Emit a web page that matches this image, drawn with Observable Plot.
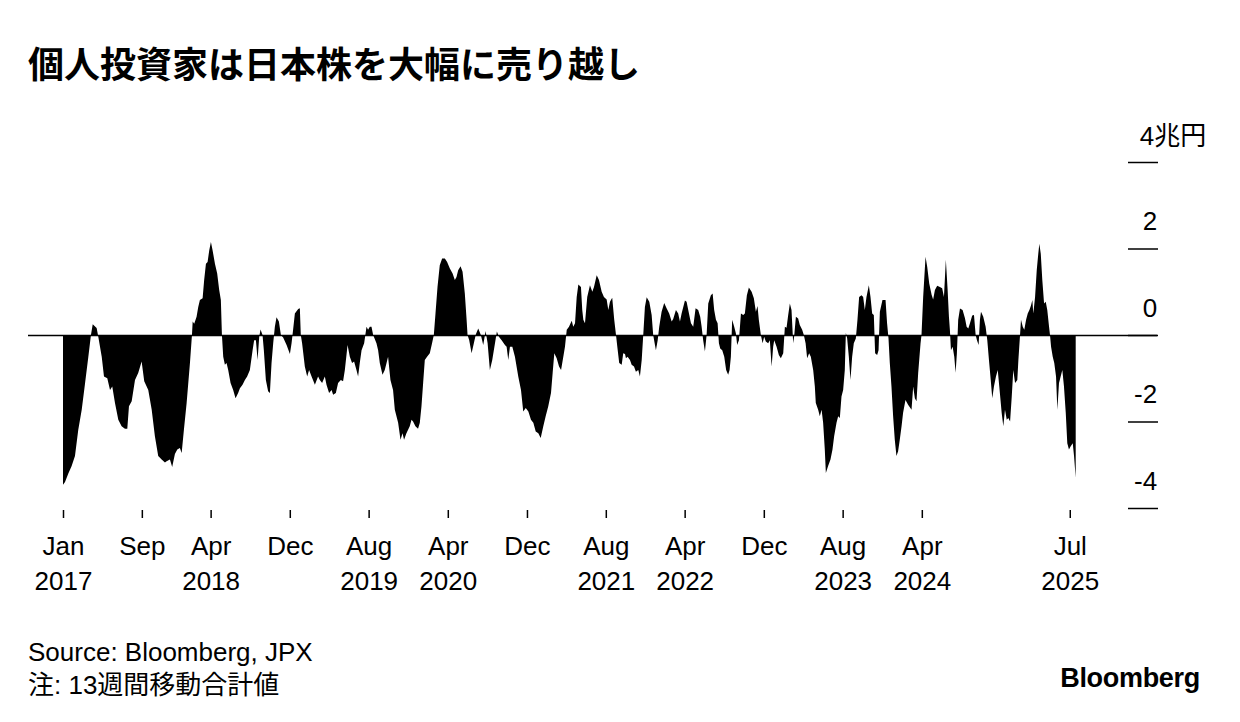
<!DOCTYPE html>
<html><head><meta charset="utf-8">
<script src="https://cdn.jsdelivr.net/npm/d3@7"></script>
<script src="https://cdn.jsdelivr.net/npm/@observablehq/plot@0.6"></script>
<style>
html,body{margin:0;padding:0;background:#fff;}
#wrap{position:relative;width:1240px;height:722px;overflow:hidden;font-family:"Liberation Sans",Arial,"Noto Sans CJK JP",sans-serif;color:#000;}
#title{position:absolute;left:28px;top:40px;font-family:"Noto Sans CJK JP",sans-serif;font-weight:700;font-size:36px;line-height:44px;margin:0;white-space:nowrap;}
#chart{position:absolute;left:0;top:100px;}
.foot{position:absolute;left:28px;font-size:26px;line-height:33px;white-space:nowrap;}
#logo{position:absolute;right:40px;top:663px;font-weight:700;font-size:27px;line-height:30px;letter-spacing:-0.3px;}
</style></head>
<body>
<div id="wrap">
  <h1 id="title">個人投資家は日本株を大幅に売り越し</h1>
  <div id="chart"></div>
  <div class="foot" style="top:636px">Source: Bloomberg, JPX</div>
  <div class="foot" style="top:669px">注: 13週間移動合計値</div>
  <div id="logo">Bloomberg</div>
</div>
<script>
// Decimal year of each reading (13-week moving sum of individual investors' net buying)
const weekT = [
2017.000,2017.017,2017.045,2017.073,2017.101,2017.129,2017.158,2017.186,2017.214,2017.236,2017.251,2017.284,2017.298,2017.327,2017.346,2017.374,2017.397,2017.416,2017.439,2017.467,2017.495,2017.523,2017.543,2017.557,2017.580,2017.608,2017.635,2017.664,2017.686,2017.720,2017.749,2017.776,2017.804,2017.833,2017.861,
2017.875,2017.903,2017.922,2017.945,2017.965,2017.987,2018.002,2018.021,2018.044,2018.072,2018.089,2018.095,2018.108,2018.128,2018.142,2018.156,2018.179,2018.192,2018.207,2018.221,2018.235,2018.249,2018.263,2018.283,2018.302,2018.319,2018.333,2018.342,2018.353,2018.367,2018.381,2018.395,2018.415,2018.437,2018.457,2018.479,2018.494,2018.516,2018.536,2018.555,2018.578,2018.601,2018.614,2018.629,2018.643,2018.657,2018.668,2018.685,2018.696,2018.713,2018.732,
2018.747,2018.761,2018.775,2018.789,2018.803,2018.823,2018.840,2018.859,2018.888,2018.916,2018.930,2018.943,2018.958,2018.986,2019.000,2019.008,2019.019,2019.042,2019.062,2019.078,2019.099,2019.127,2019.154,2019.169,2019.188,2019.211,2019.225,2019.247,2019.268,2019.281,2019.304,2019.323,2019.346,2019.365,2019.380,2019.403,2019.422,2019.441,2019.458,2019.478,2019.492,2019.506,2019.521,2019.543,2019.563,2019.576,2019.591,
2019.605,2019.619,2019.647,2019.661,2019.675,2019.698,2019.717,2019.732,2019.745,2019.765,2019.787,2019.802,2019.830,2019.850,2019.867,2019.880,2019.900,2019.914,2019.928,2019.943,2019.956,2019.976,2019.998,2020.013,2020.027,2020.041,2020.055,2020.074,2020.097,2020.116,2020.131,2020.145,2020.162,2020.181,2020.201,2020.224,2020.243,2020.266,2020.289,2020.308,2020.322,2020.336,2020.356,2020.373,2020.392,2020.407,2020.415,2020.429,2020.449,2020.468,2020.485,2020.505,
2020.527,2020.547,2020.567,2020.584,2020.603,2020.623,2020.646,2020.662,2020.679,2020.702,2020.730,2020.744,2020.758,2020.772,2020.792,2020.814,2020.842,2020.865,2020.884,2020.905,2020.927,2020.949,2020.969,2020.989,2021.011,2021.031,2021.053,2021.073,2021.095,2021.118,2021.132,2021.146,2021.166,2021.186,2021.203,2021.222,2021.236,2021.251,2021.270,2021.293,2021.306,2021.321,2021.335,2021.349,2021.371,2021.382,2021.391,
2021.405,2021.424,2021.447,2021.467,2021.481,2021.504,2021.523,2021.546,2021.565,2021.588,2021.602,2021.616,2021.635,2021.652,2021.667,2021.678,2021.694,2021.715,2021.728,2021.743,2021.751,2021.765,2021.785,2021.799,2021.819,2021.835,2021.855,2021.869,2021.884,2021.897,2021.911,2021.926,2021.948,2021.968,2021.981,2021.996,2022.004,2022.019,2022.032,2022.052,2022.074,2022.094,2022.116,2022.137,2022.150,2022.173,2022.192,2022.207,2022.221,2022.249,2022.263,
2022.277,2022.300,2022.319,2022.339,2022.361,2022.378,2022.390,2022.403,2022.418,2022.432,2022.446,2022.468,2022.483,2022.496,2022.511,2022.525,2022.536,2022.547,2022.564,2022.581,2022.597,2022.614,2022.626,2022.637,2022.648,2022.665,2022.679,2022.690,2022.705,2022.722,2022.741,2022.755,2022.772,2022.789,2022.812,2022.831,2022.848,2022.862,2022.873,2022.890,2022.905,2022.918,2022.932,2022.952,2022.966,2022.981,2022.994,2023.003,2023.023,2023.042,2023.059,2023.079,2023.093,2023.107,2023.121,2023.135,2023.149,2023.163,
2023.171,2023.186,2023.205,2023.219,2023.239,2023.253,2023.268,2023.281,2023.298,2023.312,2023.332,2023.346,2023.354,2023.374,2023.388,2023.403,2023.416,2023.430,2023.439,2023.458,2023.478,2023.495,2023.509,2023.529,2023.543,2023.557,2023.571,2023.585,2023.599,2023.608,2023.619,2023.633,2023.647,2023.661,2023.675,2023.692,2023.706,2023.720,2023.740,2023.754,2023.768,2023.782,2023.802,2023.816,2023.830,2023.844,2023.855,2023.872,2023.884,2023.895,2023.917,2023.943,2023.956,2023.968,2023.979,2023.993,2024.007,2024.021,2024.035,
2024.049,2024.063,2024.078,2024.091,2024.111,2024.133,2024.162,2024.176,2024.190,2024.204,2024.218,2024.238,2024.246,2024.260,2024.280,2024.294,2024.311,2024.331,2024.344,2024.359,2024.378,2024.401,2024.420,2024.435,2024.451,2024.466,2024.477,2024.485,2024.494,2024.508,2024.522,2024.533,2024.544,2024.555,2024.570,2024.592,2024.612,2024.626,2024.640,2024.654,2024.673,2024.688,2024.702,2024.713,2024.727,2024.738,2024.747,2024.766,2024.786,2024.800,2024.814,2024.829,2024.842,2024.856,2024.873,2024.888,2024.901,
2024.921,2024.935,2024.949,2024.964,2024.977,2024.992,2025.006,2025.019,2025.034,2025.053,2025.062,2025.076,2025.084,2025.099,2025.112,2025.127,2025.141,2025.155,2025.169,2025.180,2025.188,2025.203,2025.217,2025.230,2025.239,2025.251,2025.264,2025.279,2025.293,2025.306,2025.321,2025.329,2025.338,2025.352,2025.365,2025.380,2025.391,2025.405,2025.419,2025.433,2025.447,2025.462,2025.475,2025.489,2025.504,2025.521,2025.532,2025.546
];
// Net buying, trillion yen
const netBuy = [
-3.46,-3.40,-3.20,-3.03,-2.80,-2.19,-1.73,-1.12,-0.50,0.00,0.25,0.16,-0.04,-0.50,-0.96,-1.00,-1.27,-1.19,-1.57,-1.96,-2.11,-2.17,-2.17,-1.65,-1.53,-1.04,-0.88,-0.61,-1.07,-1.27,-1.73,-2.34,-2.80,-2.88,-2.95,
-2.92,-2.88,-3.05,-2.75,-2.65,-2.61,-2.73,-2.19,-1.57,-0.65,0.00,0.31,0.26,0.42,0.65,0.81,0.85,1.27,1.65,1.69,1.96,2.15,1.96,1.65,1.42,1.04,0.81,0.00,-0.50,-0.69,-0.65,-0.81,-1.11,-1.27,-1.46,-1.34,-1.23,-1.15,-1.04,-0.96,-0.81,-0.35,-0.12,-0.12,-0.58,-0.04,0.13,0.00,-0.35,-1.04,-1.30,
-1.34,-0.65,-0.19,0.19,0.41,0.31,0.00,-0.06,-0.23,-0.44,-0.19,0.12,0.50,0.60,0.62,0.00,-0.19,-0.73,-0.96,-0.81,-0.96,-1.15,-0.96,-1.04,-1.11,-0.96,-1.15,-1.34,-1.27,-1.38,-1.34,-1.11,-1.04,-1.07,-0.81,-0.23,-0.50,-0.65,-0.61,-0.81,-0.96,-0.65,-0.35,-0.19,0.19,0.12,0.19,
0.19,0.00,-0.19,-0.35,-0.65,-0.92,-0.81,-0.65,-0.50,-1.04,-1.27,-1.73,-2.03,-2.42,-2.27,-2.42,-2.27,-2.19,-2.11,-1.96,-2.00,-2.11,-2.17,-2.03,-1.65,-1.11,-0.58,-0.50,-0.42,-0.19,0.00,0.50,1.11,1.61,1.77,1.77,1.69,1.54,1.42,1.27,1.34,1.50,1.59,1.46,0.96,0.35,0.00,-0.12,-0.42,-0.19,0.02,0.15,
0.00,-0.23,0.09,-0.19,-0.81,-0.58,-0.19,0.08,-0.04,-0.12,-0.23,-0.27,-0.58,-0.27,-0.27,-0.50,-0.96,-1.27,-1.77,-1.69,-1.77,-1.96,-2.03,-2.23,-2.27,-2.38,-2.11,-1.88,-1.65,-1.34,-0.88,-0.42,-0.54,-0.73,-0.81,-0.50,-0.27,0.12,0.19,0.33,0.19,0.27,0.88,1.17,1.11,0.58,0.35,
0.27,0.88,1.15,1.00,1.11,1.38,1.27,1.00,0.88,0.82,0.58,0.77,0.86,0.35,0.00,-0.27,-0.65,-0.69,-0.42,-0.44,-0.54,-0.50,-0.58,-0.69,-0.73,-0.85,-0.81,-0.96,-0.58,0.00,0.65,0.87,0.77,0.46,0.00,-0.23,-0.35,-0.12,0.19,0.54,0.74,0.62,0.50,0.31,0.37,0.58,0.50,0.31,0.50,0.80,0.77,
0.58,0.27,0.19,0.62,0.58,0.42,0.19,-0.12,-0.38,0.00,0.73,0.92,0.96,0.58,0.35,0.27,-0.19,-0.31,-0.35,-0.50,-0.81,-0.92,-0.81,-0.50,0.35,0.19,0.04,-0.23,-0.12,0.50,0.46,0.50,0.92,1.10,1.00,0.85,0.54,0.67,0.35,0.00,-0.19,-0.04,-0.15,-0.19,-0.12,-0.73,-0.27,-0.12,-0.27,-0.46,-0.54,-0.42,0.19,0.17,0.46,0.73,0.58,-0.19,
-0.04,0.42,0.38,0.23,0.12,0.00,-0.19,-0.54,-0.42,-0.50,-0.81,-1.19,-1.57,-1.73,-1.88,-1.73,-2.03,-2.65,-3.19,-3.03,-2.88,-2.65,-2.34,-2.03,-1.88,-1.92,-1.42,-1.27,-0.81,0.05,-0.08,-0.50,-1.04,-0.50,-0.19,-0.08,0.35,0.88,0.92,0.88,0.58,0.88,1.15,0.88,0.50,0.46,-0.42,-0.46,-0.35,0.54,0.81,0.81,0.27,-0.08,-0.65,-1.19,-1.88,-2.42,-2.80,
-2.69,-2.42,-2.11,-1.80,-1.50,-1.61,-1.73,-1.19,-1.46,-1.53,-0.88,-0.19,0.00,0.88,1.81,1.58,1.19,0.93,0.82,1.04,1.14,1.11,1.08,0.88,1.74,1.04,0.42,0.12,-0.35,-0.27,-0.50,-0.87,-0.42,0.35,0.61,0.58,0.39,0.19,0.15,0.27,0.45,0.46,0.00,-0.12,-0.23,0.35,0.54,0.42,0.19,-0.12,-0.58,-1.04,-1.46,-1.19,-0.96,-0.81,-1.19,
-1.80,-2.11,-1.73,-1.96,-1.92,-2.00,-1.42,-0.81,-1.11,-1.04,-0.58,0.00,0.35,0.19,0.12,0.35,0.50,0.58,0.69,0.81,0.50,0.88,1.50,1.88,2.11,1.88,1.27,0.73,0.77,0.58,0.19,0.00,-0.27,-0.50,-0.65,-0.96,-1.73,-1.11,-0.96,-0.81,-1.19,-1.80,-2.50,-2.65,-2.57,-2.50,-2.80,-3.30
];
// Axis ticks
const tickISO = ["2017-01-01","2017-09-01","2018-04-01","2018-12-01","2019-08-01","2020-04-01","2020-12-01","2021-08-01","2022-04-01","2022-12-01","2023-08-01","2024-04-01","2025-07-01"];
const tickMonths = ["Jan","Sep","Apr","Dec","Aug","Apr","Dec","Aug","Apr","Dec","Aug","Apr","Jul"];
const tickYears = ["2017","","2018","","2019","2020","","2021","2022","","2023","2024","2025"];
const yTicks = [4, 2, 0, -2, -4];
const yUnit = "兆円";

const toDate = t => { const y = Math.floor(t); const a = Date.UTC(y,0,1), b = Date.UTC(y+1,0,1); return new Date(a + (t - y) * (b - a)); };
const n = Math.min(weekT.length, netBuy.length);
const data = d3.range(n).map(i => ({date: toDate(weekT[i]), value: netBuy[i]}));
const tickDates = tickISO.map(s => new Date(s + "T00:00:00Z"));
const labelOf = new Map(tickDates.map((d, i) => [+d, tickMonths[i] + (tickYears[i] ? "\n" + tickYears[i] : "")]));

const font = "'Liberation Sans', Arial, 'Noto Sans CJK JP', sans-serif";
const chart = Plot.plot({
  width: 1240, height: 520,
  marginLeft: 63, marginRight: 164.3, marginTop: 62, marginBottom: 112,
  style: {fontFamily: font, fontSize: "26px", color: "#000", background: "#fff", overflow: "visible"},
  x: {type: "utc", axis: null},
  y: {domain: [-4, 4], axis: null},
  marks: [
    Plot.areaY(data, {x: "date", y: "value", fill: "#000"}),
    Plot.ruleY([0], {stroke: "#000", strokeWidth: 1.5, insetLeft: -35, insetRight: -81.3}),
    Plot.axisY(yTicks, {anchor: "right", tickSize: 30, dx: 51.3, fill: "none", stroke: "#000", strokeWidth: 1.5, label: null}),
    Plot.axisY(yTicks.filter(d => d !== 4), {anchor: "right", tickSize: 0, tickPadding: 0, textAnchor: "end", dx: 81, dy: -27, fontSize: 26, tickFormat: d => String(d), label: null}),
    Plot.axisY([4], {anchor: "right", tickSize: 0, tickPadding: 0, textAnchor: "start", dx: 63.5, dy: -26, fontSize: 26, tickFormat: d => String(d) + yUnit, label: null}),
    Plot.axisX(tickDates, {anchor: "bottom", tickSize: 8, tickPadding: 12, dy: 2, stroke: "#000", strokeWidth: 1.5, fontSize: 26, lineHeight: 1.33, tickFormat: d => labelOf.get(+d), label: null})
  ]
});
document.getElementById("chart").append(chart);
</script>
</body></html>
